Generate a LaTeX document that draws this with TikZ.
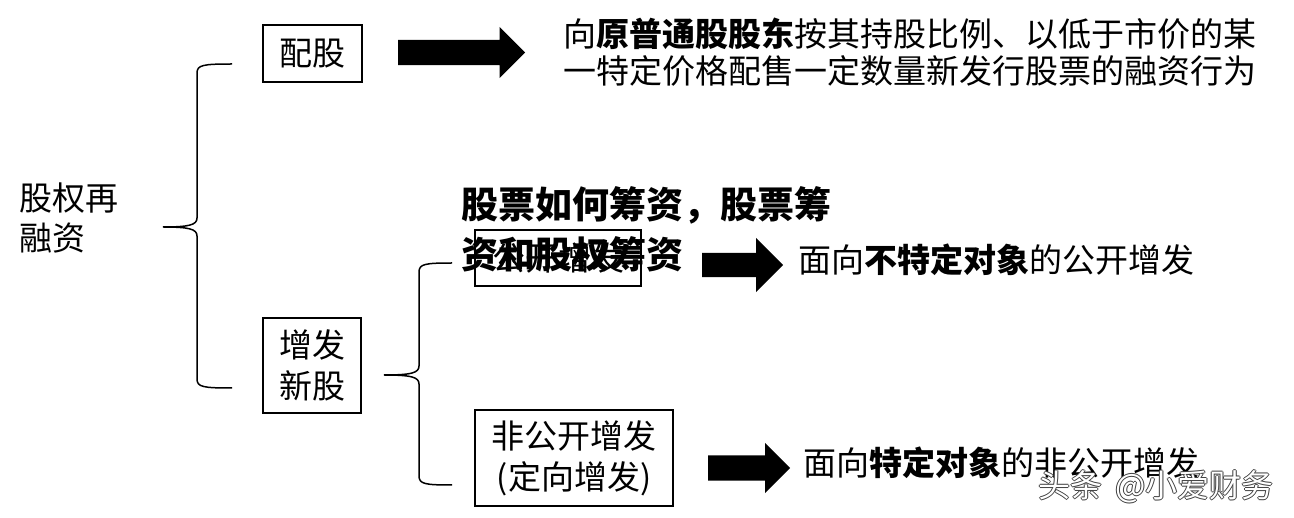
\documentclass[tikz,border=0pt]{standalone}
\usepackage{fontspec}
\setmainfont{Noto Sans CJK SC}
\usetikzlibrary{positioning,shapes.arrows}

\tikzset{
  box/.style={draw,line width=1.5pt,inner sep=0pt,align=center,
    font=\fontsize{33}{41}\selectfont},
  desc/.style={inner sep=0pt,align=left,font=\fontsize{33}{37}\selectfont},
  fatarrow/.style={single arrow,fill=black,draw=none,inner xsep=0pt,
    inner ysep=12.5pt,text height=0pt,text depth=0pt,
    single arrow head extend=13pt,anchor=tail},
  bracket/.style={line width=1.5pt},
  wmtext/.style={inner sep=0pt,anchor=west,font=\fontsize{32}{32}\selectfont},
}

% left curly bracket: x end, x stem, x tip, y top, y tip, y bottom
\newcommand\bracepath[6]{%
  \draw[bracket] (#1,#4) .. controls (#2+6,#4) and (#2,#4+1) .. (#2,#4+9)
    -- (#2,#5-9) .. controls (#2,#5-2) and (#2-8,#5) .. (#3,#5)
    .. controls (#2-8,#5) and (#2,#5+2) .. (#2,#5+9)
    -- (#2,#6-9) .. controls (#2,#6-1) and (#2+6,#6) .. (#1,#6);}

\begin{document}
\begin{tikzpicture}[x=1pt,y=-1pt]
\useasboundingbox (0,0) rectangle (1294,518);

\node[desc,anchor=west,font=\fontsize{33}{40}\selectfont] (root) at (19,218) {股权再\\融资};
\bracepath{232}{197}{163}{64}{227}{388}

% boxes
\node[box,minimum width=99pt,minimum height=57pt] (peigu) at (312.5,53.5) {配股};
\node[box,minimum width=98pt,minimum height=95pt] (zengfa) at (312,365.5) {增发\\新股};
\bracepath{452}{419}{384}{263}{375}{485}
\node[box,minimum width=166pt,minimum height=56pt] (gongkai) at (558,258) {公开增发};
\node[box,minimum width=198pt,minimum height=96pt] (feigongkai) at (574,458) {非公开增发\\(定向增发)};

% block arrows
\node[fatarrow,minimum height=127pt] (a1) at (398,52.5) {};
\node[fatarrow,minimum height=81pt,inner ysep=12pt,single arrow head extend=15pt] (a2) at (702,265) {};
\node[fatarrow,minimum height=82pt,single arrow head extend=12.5pt] (a3) at (708,468) {};

% descriptions
\node[desc,right=38pt of a1.tip] (d1) {向\textbf{原普通股股东}按其持股比例、以低于市价的某\\一特定价格配售一定数量新发行股票的融资行为};
\node[desc,right=15pt of a2.tip,yshift=5pt] (d2) {面向\textbf{不特定对象}的公开增发};
\node[desc,anchor=west] (d3) at (803,463) {面向\textbf{特定对象}的非公开增发};

% overlaid title
\node[anchor=north west,inner sep=0pt,align=left,
  font=\bfseries\fontsize{37}{50}\selectfont] (title) at (461,186) {股票如何筹资，股票筹\\资和股权筹资};

% watermark
\foreach \dx/\dy in {-0.8/0,0.8/0,0/-0.8,0/0.8}
  \node[wmtext,text=black!75] at (1038+\dx,487+\dy) {头条 \hspace{6pt}@小爱财务};
\node[wmtext,text=white] (wm) at (1038,487) {头条 \hspace{6pt}@小爱财务};
\end{tikzpicture}
\end{document}
